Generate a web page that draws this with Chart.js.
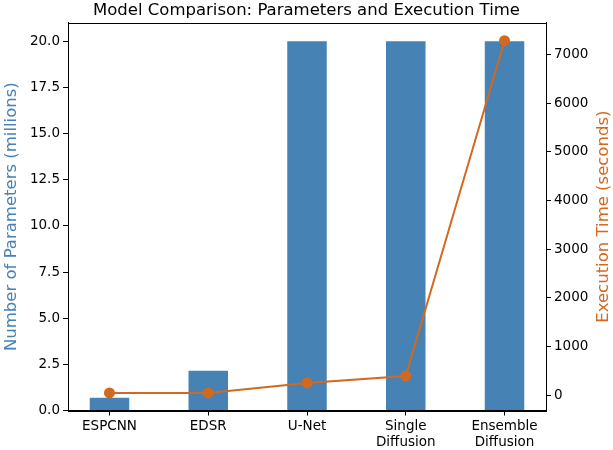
<!DOCTYPE html>
<html>
<head>
<meta charset="utf-8">
<script src="https://cdn.jsdelivr.net/npm/chart.js@4.4.1/dist/chart.umd.min.js"></script>
<style>
  html, body { margin: 0; padding: 0; background: #fff; }
  #wrap { width: 613px; height: 450px; }
</style>
</head>
<body>
<div id="wrap"><canvas id="chart" width="613" height="450"></canvas></div>
<script>
// ============================================================
// DATOS
// ============================================================
const modelos    = ['ESPCNN', 'EDSR', 'U-Net', ['Single', 'Diffusion'], ['Ensemble', 'Diffusion']];
const parametros = [0.69, 2.15, 20.0, 20.0, 20.0];   // millones
const tiempos    = [49, 49, 255, 398, 7285];          // segundos
const ticksParam  = [0, 2.5, 5, 7.5, 10, 12.5, 15, 17.5, 20];
const ticksTiempo = [0, 1000, 2000, 3000, 4000, 5000, 6000, 7000];

const AZUL    = '#4682B4';
const NARANJA = '#D2691E';
const FUENTE  = 'DejaVu Sans';
const TITULO_DER = 'Execution Time (seconds)';

// borde completo del área + título del eje derecho leído de abajo hacia arriba
const marco = {
  id: 'marco',
  afterDraw(chart) {
    const a = chart.chartArea, ctx = chart.ctx;
    ctx.save();
    ctx.strokeStyle = '#000';
    ctx.lineWidth = 1;
    ctx.strokeRect(Math.round(a.left) + 0.5, Math.round(a.top) + 0.5,
                   Math.round(a.right - a.left), Math.round(a.bottom - a.top));
    ctx.translate(chart.width - 9, (a.top + a.bottom) / 2);
    ctx.rotate(-Math.PI / 2);
    ctx.fillStyle = NARANJA;
    ctx.font = '16.5px "' + FUENTE + '"';
    ctx.textAlign = 'center';
    ctx.textBaseline = 'middle';
    ctx.fillText(TITULO_DER, 0, 0);
    ctx.restore();
  }
};

const tickFont = { family: FUENTE, size: 13.5 };

new Chart(document.getElementById('chart'), {
  type: 'bar',
  data: {
    datasets: [
      {
        type: 'line',
        label: 'Execution Time',
        data: tiempos.map((v, i) => ({ x: i, y: v })),
        yAxisID: 'y2',
        borderColor: NARANJA,
        backgroundColor: NARANJA,
        borderWidth: 2,
        pointRadius: 4.5,
        pointHoverRadius: 4.5,
        tension: 0,
        order: 0
      },
      {
        label: 'Parameters',
        data: parametros.map((v, i) => ({ x: i, y: v })),
        yAxisID: 'y',
        backgroundColor: AZUL,
        categoryPercentage: 1,
        barPercentage: 0.4,
        order: 1
      }
    ]
  },
  options: {
    responsive: false,
    animation: false,
    devicePixelRatio: 1,
    layout: { padding: 0 },
    plugins: {
      legend: { display: false },
      tooltip: { enabled: false },
      title: {
        display: true,
        text: 'Model Comparison: Parameters and Execution Time',
        color: '#000',
        font: { family: FUENTE, size: 16.5, weight: 'normal' },
        padding: { top: 1, bottom: 2 }
      }
    },
    scales: {
      x: {
        type: 'linear',
        min: -0.42,
        max: 4.42,
        offset: false,
        afterBuildTicks: s => { s.ticks = modelos.map((_, i) => ({ value: i })); },
        afterFit: s => { s.height = 39.5; },
        ticks: {
          color: '#000',
          font: tickFont,
          padding: 3,
          maxRotation: 0,
          autoSkip: false,
          callback: v => modelos[v]
        },
        grid: { offset: false, drawOnChartArea: false, drawTicks: true, tickLength: 5, color: '#000' },
        border: { color: '#000' }
      },
      y: {
        position: 'left',
        min: 0,
        max: 21,
        afterBuildTicks: s => { s.ticks = ticksParam.map(v => ({ value: v })); },
        afterFit: s => { s.width = 68; },
        ticks: { color: '#000', font: tickFont, padding: 3, callback: v => v.toFixed(1) },
        grid: { drawOnChartArea: false, tickLength: 5, color: '#000' },
        border: { color: '#000' },
        title: {
          display: true,
          text: 'Number of Parameters (millions)',
          color: AZUL,
          font: { family: FUENTE, size: 16.5 },
          padding: { top: 2, bottom: 0 }
        }
      },
      y2: {
        position: 'right',
        min: -312,
        max: 7652,
        afterBuildTicks: s => { s.ticks = ticksTiempo.map(v => ({ value: v })); },
        afterFit: s => { s.width = 67; },
        ticks: { color: '#000', font: tickFont, padding: 3, callback: v => String(v) },
        grid: { drawOnChartArea: false, tickLength: 5, color: '#000' },
        border: { color: '#000' }
      }
    }
  },
  plugins: [marco]
});
</script>
</body>
</html>
